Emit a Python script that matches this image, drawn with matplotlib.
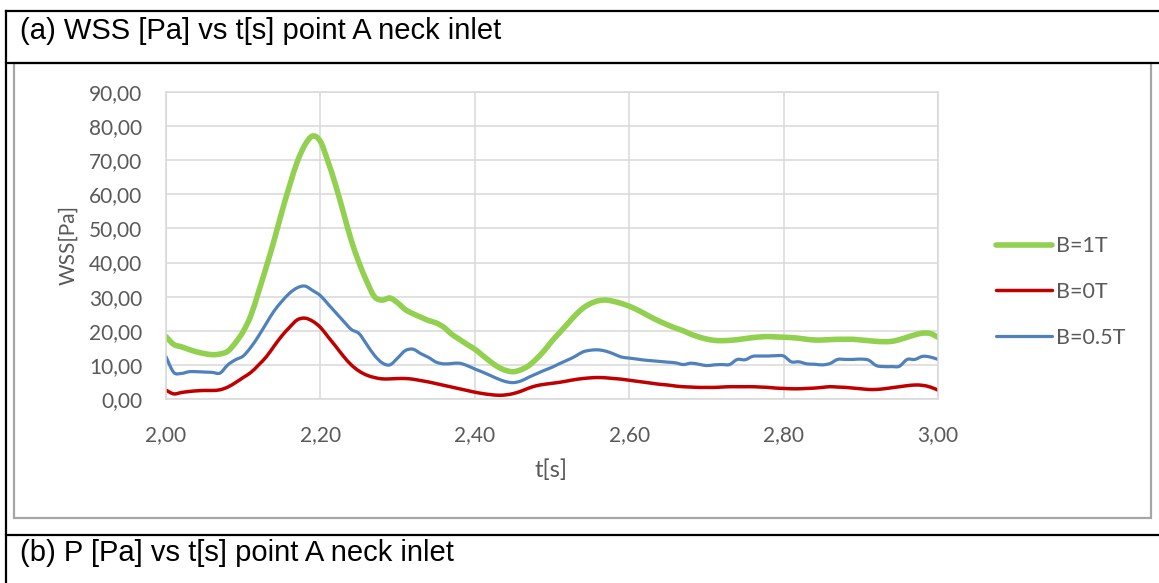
import numpy as np
import matplotlib
matplotlib.use("Agg")
import matplotlib.pyplot as plt
from matplotlib.lines import Line2D
from matplotlib.patches import Rectangle, PathPatch
from matplotlib.path import Path
from matplotlib.ticker import FuncFormatter, MultipleLocator

plt.rcParams['font.family'] = ['Lato', 'DejaVu Sans']

# time axis, 0.01 s steps
t = np.round(np.arange(2.00, 3.001, 0.01), 2)

# WSS [Pa] at point A, neck inlet
wss_b1 = [18.3, 16.0, 15.3, 14.5, 13.8, 13.3, 13.0, 13.2, 14.0, 16.5,
          19.8, 24.5, 31.5, 38.8, 46.5, 54.8, 62.5, 69.5, 74.5, 77.1,
          75.5, 69.5, 62.5, 54.5, 46.5, 40.0, 34.5, 30.0, 29.0, 29.6,
          28.2, 26.2, 25.0, 24.0, 23.0, 22.3, 21.0, 19.0, 17.5, 16.0,
          14.6, 12.8, 11.0, 9.4, 8.4, 8.0, 8.6, 9.8, 11.8, 14.2,
          17.0, 19.5, 22.0, 24.5, 26.6, 28.0, 28.8, 29.0, 28.6, 28.0,
          27.2, 26.2, 25.0, 23.8, 22.7, 21.7, 20.8, 20.0, 19.0, 18.2,
          17.6, 17.2, 17.1, 17.2, 17.4, 17.7, 18.0, 18.2, 18.3, 18.2,
          18.1, 18.0, 17.8, 17.5, 17.3, 17.3, 17.4, 17.5, 17.5, 17.5,
          17.3, 17.1, 16.9, 16.8, 16.9, 17.4, 18.1, 18.8, 19.3, 19.2,
          18.1]
wss_b0 = [2.6, 1.5, 1.9, 2.2, 2.4, 2.5, 2.5, 2.7, 3.5, 4.8,
          6.3, 7.8, 10.0, 12.4, 15.5, 18.5, 21.0, 23.2, 23.7, 22.8,
          21.0, 18.2, 15.4, 12.5, 10.0, 8.2, 7.0, 6.3, 5.9, 5.9,
          6.0, 6.0, 5.8, 5.4, 5.0, 4.5, 4.0, 3.5, 3.0, 2.5,
          2.0, 1.6, 1.3, 1.1, 1.2, 1.6, 2.3, 3.2, 3.9, 4.3,
          4.6, 4.9, 5.3, 5.7, 6.0, 6.2, 6.3, 6.2, 6.0, 5.8,
          5.5, 5.2, 4.9, 4.6, 4.3, 4.1, 3.8, 3.6, 3.5, 3.4,
          3.4, 3.4, 3.5, 3.6, 3.6, 3.6, 3.6, 3.5, 3.4, 3.2,
          3.1, 3.0, 3.0, 3.1, 3.2, 3.4, 3.6, 3.5, 3.4, 3.2,
          3.0, 2.8, 2.8, 3.0, 3.3, 3.6, 3.9, 4.1, 4.0, 3.5,
          2.6]
wss_b05 = [12.4, 7.8, 7.5, 8.0, 8.0, 7.9, 7.8, 7.6, 10.0, 11.5,
           12.6, 15.2, 18.5, 22.2, 25.8, 28.6, 31.0, 32.6, 33.1, 31.8,
           30.3, 27.8, 25.3, 22.8, 20.4, 19.2, 16.0, 12.8, 10.6, 10.0,
           12.0, 14.2, 14.6, 13.3, 12.2, 10.8, 10.3, 10.4, 10.5, 9.8,
           8.8, 7.9, 6.9, 5.9, 5.1, 4.8, 5.3, 6.4, 7.4, 8.4,
           9.3, 10.4, 11.4, 12.5, 13.8, 14.3, 14.4, 14.0, 13.2, 12.3,
           12.0, 11.7, 11.4, 11.2, 11.0, 10.8, 10.6, 10.1, 10.5, 10.2,
           9.8, 10.0, 10.1, 10.1, 11.6, 11.5, 12.5, 12.6, 12.6, 12.7,
           12.6, 10.9, 10.9, 10.3, 10.2, 10.0, 10.4, 11.6, 11.6, 11.6,
           11.7, 11.4, 9.8, 9.5, 9.5, 9.6, 11.6, 11.6, 12.5, 12.3,
           11.6]

series = [
    ('B=1T', wss_b1, '#92D050', 4.0),
    ('B=0T', wss_b0, '#C00000', 2.5),
    ('B=0.5T', wss_b05, '#4F81BD', 2.3),
]

W, H = 1159, 583
fig = plt.figure(figsize=(W / 100, H / 100), dpi=100)

def fx(px):
    return px / W

def fy(py):
    return 1 - py / H

def smooth_path(x, y):
    # smoothed line through the points (cubic bezier segments)
    p = np.column_stack([x, y]).astype(float)
    q = np.vstack([p[0], p, p[-1]])
    verts = [p[0]]
    codes = [Path.MOVETO]
    for i in range(len(p) - 1):
        c1 = p[i] + (q[i + 2] - q[i]) / 6
        c2 = p[i + 1] - (q[i + 3] - q[i + 1]) / 6
        verts += [c1, c2, p[i + 1]]
        codes += [Path.CURVE4] * 3
    return Path(verts, codes)

# table frame around the chart
black = dict(color='black', linewidth=1.6, transform=fig.transFigure)
fig.add_artist(Line2D([fx(6), 1], [fy(11), fy(11)], **black))
fig.add_artist(Line2D([fx(6), fx(6)], [fy(11), 0], **black))
fig.add_artist(Line2D([fx(6), 1], [fy(62.5), fy(62.5)], **black))
fig.add_artist(Line2D([fx(6), 1], [fy(535), fy(535)], **black))
fig.add_artist(Rectangle((fx(14), fy(518)), fx(1151) - fx(14), fy(63) - fy(518),
                         transform=fig.transFigure, facecolor='none',
                         edgecolor='#A6A6A6', linewidth=1.6))

fig.text(fx(20), fy(31), "(a) WSS [Pa] vs t[s] point A neck inlet",
         family='Liberation Sans', fontsize=21, va='center', ha='left')
fig.text(fx(20), fy(553), "(b) P [Pa] vs t[s] point A neck inlet",
         family='Liberation Sans', fontsize=21, va='center', ha='left')

ax = fig.add_axes([fx(166), fy(399), fx(938) - fx(166), fy(92) - fy(399)])
ax.patch.set_alpha(0)
handles = []
for name, vals, col, lw in series:
    ax.add_patch(PathPatch(smooth_path(t, vals), fill=False, edgecolor=col,
                           linewidth=lw, capstyle='round', joinstyle='round'))
    handles.append(Line2D([], [], color=col, linewidth=lw,
                          solid_capstyle='round', label=name))

ax.set_xlim(2.0, 3.0)
ax.set_ylim(0, 90)
ax.xaxis.set_major_locator(MultipleLocator(0.2))
ax.yaxis.set_major_locator(MultipleLocator(10))
comma = FuncFormatter(lambda v, p: f"{v:.2f}".replace('.', ','))
ax.xaxis.set_major_formatter(comma)
ax.yaxis.set_major_formatter(comma)
ax.tick_params(length=0, labelsize=15, labelcolor='#595959')
ax.tick_params(axis='y', pad=17)
ax.tick_params(axis='x', pad=19)
ax.grid(True, color='#D9D9D9', linewidth=1.1)
ax.set_axisbelow(True)
for s in ax.spines.values():
    s.set_color('#D9D9D9')
    s.set_linewidth(1.1)

fig.text(fx(68), fy(245), "WSS[Pa]", rotation=90, fontsize=15,
         color='#595959', ha='center', va='center')
fig.text(fx(551), fy(470), "t[s]", fontsize=17, color='#595959',
         ha='center', va='center')

fig.legend(handles=handles, loc='center left', bbox_to_anchor=(fx(996), fy(292)),
           frameon=False, fontsize=15.5, handlelength=2.6, handletextpad=0.2,
           labelspacing=1.2, borderpad=0, borderaxespad=0,
           labelcolor='#595959')

fig.savefig('out.png', dpi=100)
